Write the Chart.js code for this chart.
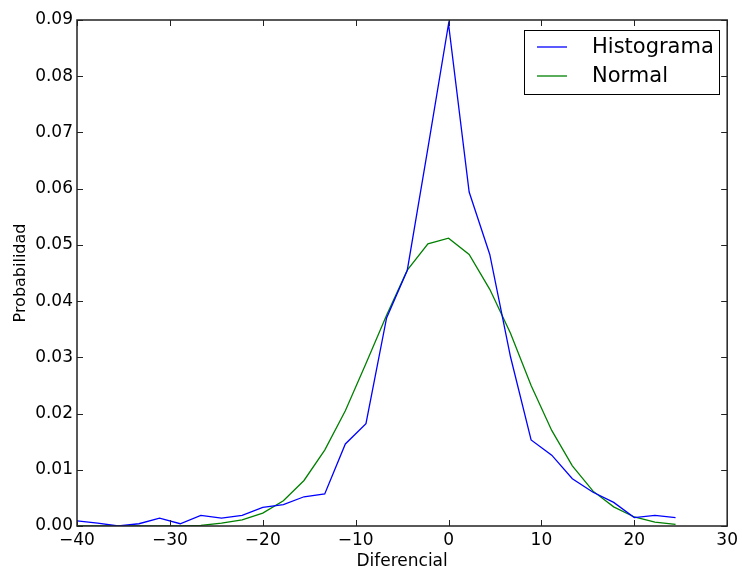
<!DOCTYPE html>
<html>
<head>
<meta charset="utf-8">
<script src="https://cdn.jsdelivr.net/npm/chart.js@4"></script>
<style>
  body { margin: 0; background: #fff; }
  canvas { display: block; }
</style>
</head>
<body>
<canvas id="grafica" width="742" height="567"></canvas>
<script>
// centros de los bins (Diferencial)
const diferencial = [-40, -37.78, -35.56, -33.33, -31.11, -28.89, -26.67, -24.44, -22.22, -20,
  -17.78, -15.56, -13.33, -11.11, -8.89, -6.67, -4.44, -2.22, 0, 2.22,
  4.44, 6.67, 8.89, 11.11, 13.33, 15.56, 17.78, 20, 22.22, 24.44];

const histograma = [0.0009, 0.0005, 0.0000, 0.0004, 0.0014, 0.0004, 0.0019, 0.0014, 0.0019, 0.0033,
  0.0038, 0.0052, 0.0057, 0.0146, 0.0182, 0.0370, 0.0455, 0.0672, 0.0893, 0.0594,
  0.0483, 0.0301, 0.0153, 0.0126, 0.0084, 0.0060, 0.0042, 0.0015, 0.0019, 0.0015];

const normal = [0, 0, 0, 0, 0, 0.00003, 0.0001, 0.0005, 0.0011, 0.0023,
  0.0045, 0.0081, 0.0135, 0.0205, 0.0289, 0.0375, 0.0455, 0.0502, 0.0512, 0.0483,
  0.0421, 0.0343, 0.0250, 0.0170, 0.0107, 0.0062, 0.0034, 0.0016, 0.0007, 0.0003];

const ticksX = [-40, -30, -20, -10, 0, 10, 20, 30];
const ticksY = [0, 0.01, 0.02, 0.03, 0.04, 0.05, 0.06, 0.07, 0.08, 0.09];

const nombres = ['Histograma', 'Normal'];
const colores = ['#0000ff', '#008000'];

const fuente = 'DejaVu Sans';

const toPts = (ys) => diferencial.map((x, i) => ({ x: x, y: ys[i] }));

// marco y ticks hacia dentro, leyenda estilo matplotlib
const marco = {
  id: 'marco',
  afterDraw(chart) {
    const { ctx, chartArea: a, scales } = chart;
    ctx.save();
    ctx.strokeStyle = '#222';
    ctx.lineWidth = 1.5;
    ctx.strokeRect(a.left, a.top, a.right - a.left, a.bottom - a.top);
    ctx.lineWidth = 1;
    ctx.beginPath();
    ticksX.forEach(v => {
      const px = Math.round(scales.x.getPixelForValue(v)) + 0.5;
      ctx.moveTo(px, a.bottom); ctx.lineTo(px, a.bottom - 6);
      ctx.moveTo(px, a.top); ctx.lineTo(px, a.top + 6);
    });
    ticksY.forEach(v => {
      const py = Math.round(scales.y.getPixelForValue(v)) + 0.5;
      ctx.moveTo(a.left, py); ctx.lineTo(a.left + 6, py);
      ctx.moveTo(a.right, py); ctx.lineTo(a.right - 6, py);
    });
    ctx.stroke();

    // leyenda
    const bx = 524, by = 30, bw = 195, bh = 64;
    ctx.fillStyle = '#fff';
    ctx.fillRect(bx, by, bw, bh);
    ctx.strokeStyle = '#000';
    ctx.lineWidth = 1;
    ctx.strokeRect(bx + 0.5, by + 0.5, bw, bh);
    ctx.font = '21px "' + fuente + '"';
    ctx.textBaseline = 'middle';
    nombres.forEach((n, i) => {
      const y = by + 17 + i * 29;
      ctx.strokeStyle = colores[i];
      ctx.lineWidth = 1.3;
      ctx.beginPath();
      ctx.moveTo(bx + 13, y); ctx.lineTo(bx + 43, y);
      ctx.stroke();
      ctx.fillStyle = '#000';
      ctx.fillText(n, bx + 68, y + 1);
    });
    ctx.restore();
  }
};

const ctx = document.getElementById('grafica').getContext('2d');
const chart = new Chart(ctx, {
  type: 'line',
  data: {
    datasets: [
      { label: nombres[0], data: toPts(histograma), borderColor: colores[0], borderWidth: 1.3, pointRadius: 0, fill: false, tension: 0 },
      { label: nombres[1], data: toPts(normal), borderColor: colores[1], borderWidth: 1.3, pointRadius: 0, fill: false, tension: 0 }
    ]
  },
  options: {
    responsive: false,
    devicePixelRatio: 1,
    animation: false,
    layout: { padding: { top: 20, right: 13, left: 9, bottom: 0 } },
    plugins: { legend: { display: false }, tooltip: { enabled: false } },
    scales: {
      x: {
        type: 'linear',
        min: -40, max: 30,
        afterBuildTicks: s => { s.ticks = ticksX.map(v => ({ value: v })); },
        afterFit: s => { s.height = 41; },
        grid: { display: false, drawTicks: false },
        border: { display: false },
        ticks: {
          color: '#000', padding: 4,
          font: { family: fuente, size: 17 },
          callback: v => String(v).replace('-', '\u2212')
        },
        title: { display: true, text: 'Diferencial', color: '#000', padding: 0, font: { family: fuente, size: 17, lineHeight: 0.6 } }
      },
      y: {
        type: 'linear',
        min: 0, max: 0.09,
        afterBuildTicks: s => { s.ticks = ticksY.map(v => ({ value: v })); },
        afterFit: s => { s.width = 68; },
        grid: { display: false, drawTicks: false },
        border: { display: false },
        ticks: {
          color: '#000', padding: 4,
          font: { family: fuente, size: 17 },
          callback: v => v.toFixed(2)
        },
        title: { display: true, text: 'Probabilidad', color: '#000', padding: 2, font: { family: fuente, size: 16 } }
      }
    }
  },
  plugins: [marco]
});
</script>
</body>
</html>
